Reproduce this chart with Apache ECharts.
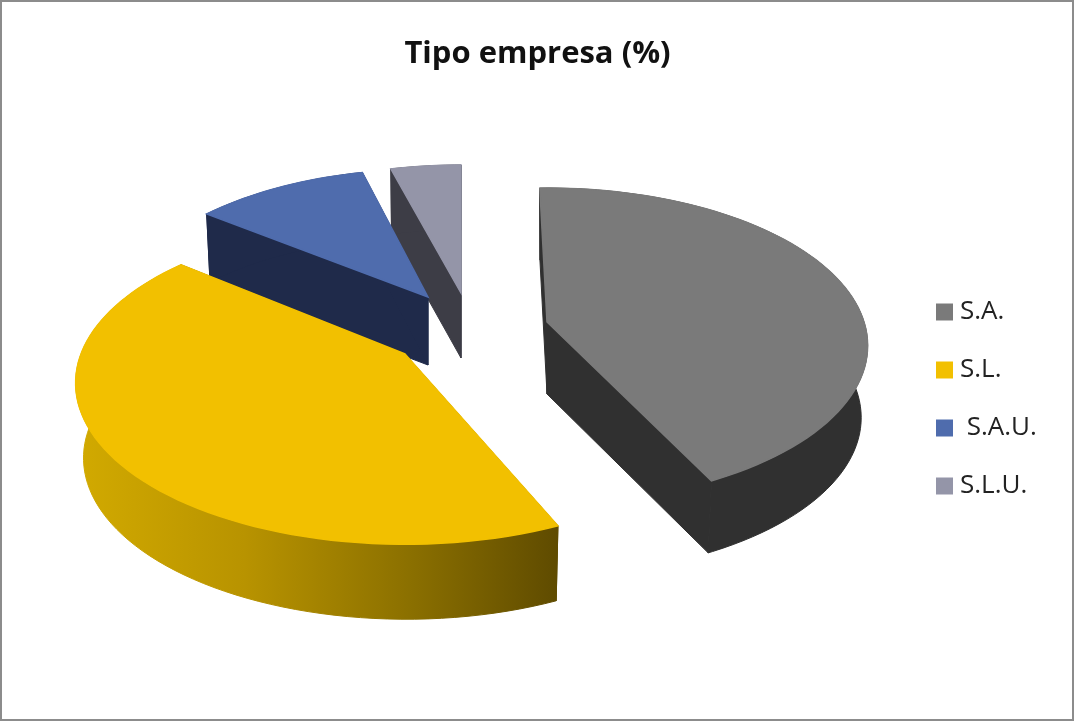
<!DOCTYPE html>
<html>
<head>
<meta charset="utf-8">
<title>Tipo empresa (%)</title>
<style>
  html, body { margin: 0; padding: 0; background: #fff; }
  #chart { width: 1075px; height: 722px; }
</style>
<script src="https://cdn.jsdelivr.net/npm/echarts@6/dist/echarts.min.js"></script>
</head>
<body>
<div id="chart"></div>
<script>
  var categories = ['S.A.', 'S.L.', ' S.A.U.', 'S.L.U.']
  var values = [43, 43, 10, 4]

  var topColors = ['#7a7a7a', '#f2c000', '#4f6cad', '#9495a8']
  var sideColors = ['#303030', '#5f4b00', '#1f2a4a', '#3d3d46']

  // exploded slices: every slice has its own centre and perspective, like the Excel 3D pie
  // gap moves the first edge of a slice a little, the projection is not quite a real ellipse
  var slices = [
    { cx: 547, cy: 322, rx: 317, ry: 154, persp: 0.15, depth: 72, vx: 547, shrink: 0.02, turn: -1.5, gap: 0, z: 3 },
    { cx: 405, cy: 354, rx: 324, ry: 156, persp: 0.18, depth: 75, vx: 470, shrink: 0.02, turn: 0, gap: 2, z: 4 },
    { cx: 428, cy: 297, rx: 310, ry: 151, persp: 0.18, depth: 68, vx: 428, shrink: 0.015, turn: 0, gap: -2, z: 2 },
    { cx: 461, cy: 293, rx: 310, ry: 151, persp: 0.18, depth: 65, vx: 461, shrink: 0.01, turn: 0, gap: -1, z: 1 }
  ]

  var total = values.reduce(function (a, b) { return a + b }, 0)

  function point(s, deg, bottom) {
    var a = (deg + s.turn) * Math.PI / 180
    var p = 1 / (1 + s.persp * Math.cos(a))
    var x = s.cx + s.rx * Math.sin(a) * p
    var y = s.cy - s.ry * Math.cos(a) * p
    if (bottom) {
      return [x + (s.vx - x) * s.shrink, y + s.depth]
    }
    return [x, y]
  }

  function arc(s, from, to, bottom) {
    var pts = []
    for (var d = from; d < to; d += 2) {
      pts.push(point(s, d, bottom))
    }
    pts.push(point(s, to, bottom))
    return pts
  }

  function renderSlice(params, api) {
    var s = slices[params.seriesIndex]
    var from = api.value(0) + s.gap
    var to = api.value(1)
    var apex = [s.cx, s.cy]
    var apexBottom = [s.cx + (s.vx - s.cx) * s.shrink, s.cy + s.depth]
    var side = sideColors[params.seriesIndex]
    var topColor = topColors[params.seriesIndex]
    var outerFill = side
    // only the big yellow slice has the shaded rim
    if (params.seriesIndex === 1) {
      outerFill = new echarts.graphic.LinearGradient(76, 0, 558, 0, [
        { offset: 0, color: '#d2aa00' },
        { offset: 0.35, color: '#b89300' },
        { offset: 0.7, color: '#8a6f00' },
        { offset: 1, color: '#5f4b00' }
      ], true)
    }
    var topArc = arc(s, from, to, false)
    var bottomArc = arc(s, from, to, true)
    var first = topArc[0]
    var last = topArc[topArc.length - 1]
    return {
      type: 'group',
      children: [
        {
          type: 'polygon',
          shape: { points: [apex, first, bottomArc[0], apexBottom] },
          style: { fill: side, stroke: side, lineWidth: 1 }
        },
        {
          type: 'polygon',
          shape: { points: [apex, last, bottomArc[bottomArc.length - 1], apexBottom] },
          style: { fill: side, stroke: side, lineWidth: 1 }
        },
        {
          type: 'polygon',
          shape: { points: topArc.concat(bottomArc.slice().reverse()) },
          style: { fill: outerFill, stroke: outerFill, lineWidth: 1 }
        },
        {
          type: 'polygon',
          shape: { points: [apex].concat(topArc) },
          style: { fill: topColor, stroke: topColor, lineWidth: 1.5 }
        }
      ]
    }
  }

  var acc = 0
  var series = categories.map(function (name, i) {
    var from = acc / total * 360
    acc += values[i]
    return {
      type: 'custom',
      name: name,
      coordinateSystem: 'none',
      z: slices[i].z,
      itemStyle: { color: topColors[i] },
      renderItem: renderSlice,
      data: [[from, acc / total * 360]]
    }
  })

  var chart = echarts.init(document.getElementById('chart'))
  chart.setOption({
    animation: false,
    backgroundColor: '#fff',
    title: {
      text: 'Tipo empresa (%)',
      left: 'center',
      top: 34,
      textStyle: {
        fontFamily: 'Open Sans',
        fontWeight: 'bold',
        fontSize: 31,
        color: '#111'
      }
    },
    legend: {
      orient: 'vertical',
      left: 936,
      top: 299,
      padding: 0,
      icon: 'rect',
      itemWidth: 17,
      itemHeight: 17,
      itemGap: 32,
      data: categories,
      textStyle: {
        fontFamily: 'Open Sans',
        fontSize: 26,
        color: '#222',
        padding: [0, 0, 0, 2]
      }
    },
    graphic: [{
      type: 'rect',
      silent: true,
      shape: { x: 1, y: 1, width: 1072, height: 719 },
      style: { fill: 'none', stroke: '#8c8c8c', lineWidth: 2 }
    }],
    series: series
  })
</script>
</body>
</html>
